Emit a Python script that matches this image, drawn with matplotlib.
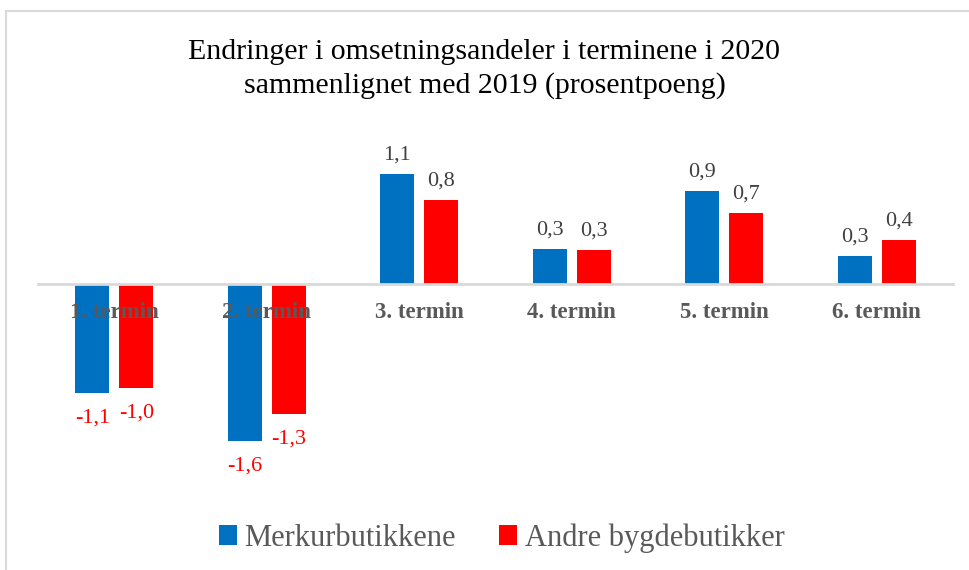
import matplotlib.pyplot as plt
import matplotlib.patches as mpatches
import numpy as np

# data
terminer = ['1. termin', '2. termin', '3. termin', '4. termin', '5. termin', '6. termin']
merkur = [-1.09, -1.57, 1.10, 0.35, 0.93, 0.28]
andre = [-1.04, -1.30, 0.84, 0.34, 0.71, 0.44]
serie_navn = ['Merkurbutikkene', 'Andre bygdebutikker']

BLUE = '#0070C0'
RED = '#FF0000'
GREY = '#595959'
SERIF = ['Liberation Serif', 'DejaVu Serif']

fig = plt.figure(figsize=(9.69, 5.70), dpi=100)
W, H = 969, 570

# chart frame (light grey border, cut off on right/bottom)
fig.patches.append(mpatches.Rectangle((6 / W, -0.1), 1.1, 1 - 11 / H + 0.1,
                                      transform=fig.transFigure, fill=False,
                                      edgecolor='#d9d9d9', linewidth=1.5))

# plot area: x 38..953 px, y: 1.5 at 134px, -2.0 at 484px
ax = fig.add_axes([38 / W, 1 - 484 / H, (953 - 38) / W, 350 / H])
x = np.arange(len(terminer))
w = 0.223
off = 0.144
b1 = ax.bar(x - off, merkur, w, color=BLUE, label=serie_navn[0])
b2 = ax.bar(x + off, andre, w, color=RED, label=serie_navn[1])

ax.set_xlim(-0.5, len(terminer) - 0.5)
ax.set_ylim(-2.0, 1.5)

def fmt(v):
    return f'{v:.1f}'.replace('.', ',')

for bars, vals in ((b1, merkur), (b2, andre)):
    for rect, v in zip(bars, vals):
        cx = rect.get_x() + rect.get_width() / 2
        if v >= 0:
            ax.annotate(fmt(v), (cx, v), xytext=(0, 7), textcoords='offset points',
                        ha='center', va='bottom', fontsize=16, color='#404040',
                        family=SERIF)
        else:
            ax.annotate(fmt(v), (cx, v), xytext=(0, -11), textcoords='offset points',
                        ha='center', va='top', fontsize=16, color=RED,
                        family=SERIF)

for s in ['top', 'right', 'left']:
    ax.spines[s].set_visible(False)
ax.spines['bottom'].set_position(('data', 0))
ax.spines['bottom'].set_color('#d9d9d9')
ax.spines['bottom'].set_linewidth(2)
ax.set_yticks([])
ax.set_xticks(x)
ax.set_xticklabels(terminer, fontsize=16.5, fontweight='bold', color=GREY, family=SERIF)
ax.tick_params(axis='x', length=0, pad=13)
ax.patch.set_visible(False)

fig.text(0.5, 1 - 52 / H, 'Endringer i omsetningsandeler i terminene i 2020',
         ha='center', va='center', fontsize=21.5, family=SERIF, color='black')
fig.text(0.5, 1 - 86 / H, 'sammenlignet med 2019 (prosentpoeng)',
         ha='center', va='center', fontsize=21.5, family=SERIF, color='black')

leg = fig.legend(loc='center', bbox_to_anchor=(0.5176, 1 - 538 / H), ncol=2,
                 frameon=False, prop={'family': SERIF, 'size': 22},
                 handlelength=0.6, handleheight=0.6, handletextpad=0.25,
                 columnspacing=1.4, labelcolor=GREY)

fig.savefig('out.png', dpi=100)
